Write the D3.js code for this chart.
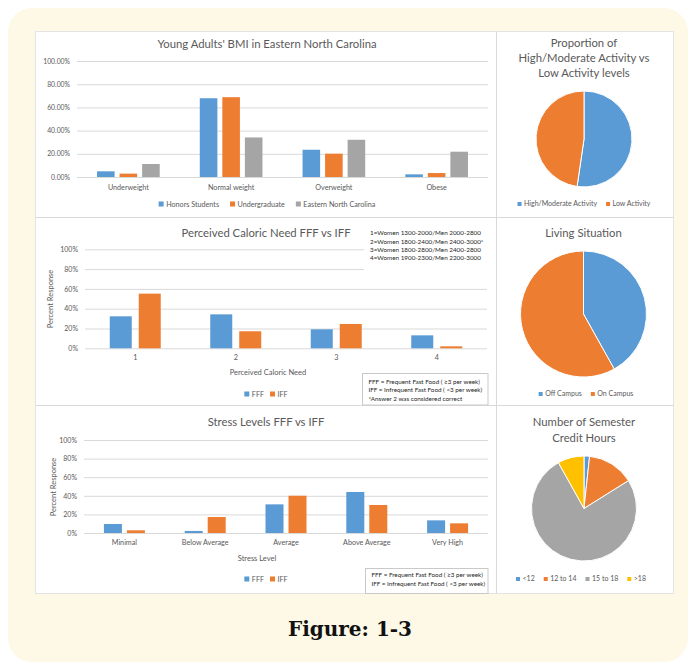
<!DOCTYPE html>
<html>
<head>
<meta charset="utf-8">
<script src="https://cdn.jsdelivr.net/npm/d3@7"></script>
<style>
  html, body { margin: 0; padding: 0; background: #ffffff; }
  svg { display: block; }
  text { font-family: Lato, "Open Sans", sans-serif; fill: #595959; }
</style>
</head>
<body>
<svg id="fig" width="692" height="667"></svg>
<script>
// ---- Data ----
const bmiCategories = ["Underweight", "Normal weight", "Overweight", "Obese"];
const bmiSeries = ["Honors Students", "Undergraduate", "Eastern North Carolina"];
const honorsValues = [4.9, 67.9, 23.5, 2.3];
const undergradValues = [2.9, 68.8, 20.1, 3.4];
const encValues = [11.2, 34.1, 32.1, 21.8];
const bmiTicks = [0, 20, 40, 60, 80, 100];

const fastFoodSeries = ["FFF", "IFF"];
const caloricCategories = ["1", "2", "3", "4"];
const caloricFFF = [32.3, 34.3, 19.2, 13.1];
const caloricIFF = [55.2, 17.2, 24.6, 2.0];
const caloricKey = [
  "1=Women 1300-2000/Men 2000-2800",
  "2=Women 1800-2400/Men 2400-3000*",
  "3=Women 1800-2800/Men 2400-2800",
  "4=Women 1900-2300/Men 2200-3000"
];
const caloricNotes = [
  "FFF = Frequent Fast Food ( \u22653 per week)",
  "IFF = Infrequent Fast Food ( <3 per week)",
  "*Answer 2 was considered correct"
];

const stressCategories = ["Minimal", "Below Average", "Average", "Above Average", "Very High"];
const stressFFF = [9.7, 2.2, 30.8, 44.1, 13.6];
const stressIFF = [2.9, 17.2, 40.1, 30.1, 10.4];
const stressNotes = [
  "FFF = Frequent Fast Food ( \u22653 per week)",
  "IFF = Infrequent Fast Food ( <3 per week)"
];
const pctTicks = [0, 20, 40, 60, 80, 100];

const activityLabels = ["High/Moderate Activity", "Low Activity"];
const activityValues = [52.3, 47.7];
const livingLabels = ["Off Campus", "On Campus"];
const livingValues = [41.9, 58.1];
const creditLabels = ["<12", "12 to 14", "15 to 18", ">18"];
const creditValues = [1.7, 14.4, 75.8, 8.1];

const palette = ["#5b9bd5", "#ed7d31", "#a5a5a5", "#ffc000"];
const gridColor = "#d9d9d9";

const svg = d3.select("#fig");

// ---- Frame: cream panel, white chart sheet, dividers ----
svg.append("rect").attr("x", 8).attr("y", 8).attr("width", 680).attr("height", 654)
  .attr("rx", 24).attr("fill", "#fdf9e6");
svg.append("rect").attr("x", 35.5).attr("y", 31.5).attr("width", 638).attr("height", 562)
  .attr("fill", "#ffffff").attr("stroke", "#e4e4e4").attr("stroke-width", 1);
svg.append("line").attr("x1", 496.5).attr("x2", 496.5).attr("y1", 31.5).attr("y2", 593.5)
  .attr("stroke", gridColor);
[217.5, 405.5].forEach(y => svg.append("line").attr("x1", 35.5).attr("x2", 673.5)
  .attr("y1", y).attr("y2", y).attr("stroke", gridColor));

svg.append("text").attr("x", 350).attr("y", 636).attr("text-anchor", "middle")
  .style("font-family", "'DejaVu Serif', serif").style("font-weight", "bold")
  .style("font-size", "20px").style("fill", "#111").text("Figure: 1-3");

// ---- Helpers ----
function legend(g, labels, colors, cx, y, size, fs, gap) {
  const items = g.append("g");
  let x = 0;
  labels.forEach((lab, i) => {
    items.append("rect").attr("x", x).attr("y", y - size / 2).attr("width", size).attr("height", size)
      .attr("fill", colors[i]);
    const t = items.append("text").attr("x", x + size + 2.5).attr("y", y).attr("dy", "0.35em")
      .style("font-size", fs + "px").text(lab);
    x += size + 2.5 + t.node().getComputedTextLength() + gap;
  });
  const w = x - gap;
  items.attr("transform", `translate(${cx - w / 2},0)`);
}

function barChart(cfg) {
  const g = svg.append("g");
  const x0 = d3.scaleBand().domain(cfg.categories).range(cfg.xRange)
    .paddingInner(cfg.groupPad).paddingOuter(cfg.groupPad / 2);
  const x1 = d3.scaleBand().domain(cfg.series).range([0, x0.bandwidth()]).paddingInner(cfg.barPad);
  const y = d3.scaleLinear().domain([0, 100]).range(cfg.yRange);

  // gridlines + tick labels
  const axis = d3.axisLeft(y).tickValues(cfg.ticks).tickFormat(cfg.fmt)
    .tickSize(-(cfg.xRange[1] - cfg.xRange[0])).tickPadding(7);
  const ag = g.append("g").attr("transform", `translate(${cfg.xRange[0]},0)`).call(axis);
  ag.select(".domain").remove();
  ag.selectAll(".tick line").attr("stroke", gridColor);
  ag.selectAll(".tick text").style("font-size", cfg.tickFs + "px").style("fill", "#595959")
    .style("font-family", "Lato, sans-serif");

  // bars
  cfg.series.forEach((s, si) => {
    g.append("g").selectAll("rect").data(cfg.values[si]).join("rect")
      .attr("x", (d, i) => x0(cfg.categories[i]) + x1(s))
      .attr("width", x1.bandwidth())
      .attr("y", d => y(d))
      .attr("height", d => y(0) - y(d))
      .attr("fill", palette[si]);
  });

  // category labels
  const xa = d3.axisBottom(x0).tickSize(0).tickPadding(cfg.labelPad);
  const xg = g.append("g").attr("transform", `translate(0,${cfg.yRange[0]})`).call(xa);
  xg.select(".domain").remove();
  xg.selectAll(".tick text").style("font-size", cfg.labelFs + "px").style("fill", "#595959")
    .style("font-family", "Lato, sans-serif");

  g.append("text").attr("x", cfg.titleX).attr("y", cfg.titleY).attr("dy", "0.35em")
    .attr("text-anchor", "middle").style("font-size", cfg.titleFs + "px").text(cfg.title);

  if (cfg.yTitle) {
    g.append("text").attr("transform", `translate(${cfg.yTitle.x},${cfg.yTitle.y}) rotate(-90)`)
      .attr("dy", "0.35em").attr("text-anchor", "middle").style("font-size", "7.5px").text(cfg.yTitle.text);
  }
  if (cfg.xTitle) {
    g.append("text").attr("x", cfg.xTitle.x).attr("y", cfg.xTitle.y).attr("dy", "0.35em")
      .attr("text-anchor", "middle").style("font-size", "7.5px").text(cfg.xTitle.text);
  }
  legend(g, cfg.series, palette, cfg.legend.x, cfg.legend.y, 5, cfg.legend.fs, cfg.legend.gap);
  return g;
}

function noteBox(lines, x, y, w, h, firstY, step, border) {
  const g = svg.append("g");
  g.append("rect").attr("x", x).attr("y", y).attr("width", w).attr("height", h)
    .attr("fill", "#ffffff").attr("stroke", border ? "#c9c9c9" : "none");
  lines.forEach((l, i) => g.append("text").attr("x", x + 6).attr("y", firstY + i * step)
    .attr("dy", "0.35em").style("font-size", "6.3px").style("fill", "#262626").text(l));
}

function pieChart(cfg) {
  const g = svg.append("g");
  cfg.title.forEach((t, i) => g.append("text").attr("x", cfg.cx).attr("y", cfg.titleY + i * cfg.titleStep)
    .attr("dy", "0.35em").attr("text-anchor", "middle").style("font-size", "11.3px").text(t));
  const pie = d3.pie().sort(null).value(d => d)(cfg.values);
  const arc = d3.arc().innerRadius(0).outerRadius(cfg.r);
  g.append("g").attr("transform", `translate(${cfg.cx},${cfg.cy})`)
    .selectAll("path").data(pie).join("path")
    .attr("d", arc).attr("fill", (d, i) => palette[i])
    .attr("stroke", "#ffffff").attr("stroke-width", 1);
  legend(g, cfg.labels, palette, cfg.legend.x, cfg.legend.y, 4, 7, 9);
}

// ---- Young Adults' BMI ----
barChart({
  categories: bmiCategories, series: bmiSeries,
  values: [honorsValues, undergradValues, encValues],
  xRange: [77, 488], yRange: [177, 61], ticks: bmiTicks,
  fmt: d => d3.format(".2f")(d) + "%",
  groupPad: 0.39, barPad: 0.22, tickFs: 6.8, labelFs: 7.2, labelPad: 8,
  title: "Young Adults' BMI in Eastern North Carolina", titleX: 267, titleY: 44, titleFs: 11.3,
  legend: { x: 267, y: 204, fs: 7.2, gap: 11 }
});

// ---- Perceived Caloric Need ----
barChart({
  categories: caloricCategories, series: fastFoodSeries,
  values: [caloricFFF, caloricIFF],
  xRange: [85, 487], yRange: [348.3, 249.3], ticks: pctTicks,
  fmt: d => d + "%",
  groupPad: 0.4925, barPad: 0.241, tickFs: 7, labelFs: 7.2, labelPad: 7,
  title: "Perceived Caloric Need FFF vs IFF", titleX: 266, titleY: 233, titleFs: 11.3,
  yTitle: { x: 50, y: 299, text: "Percent Response" },
  xTitle: { x: 268, y: 372, text: "Perceived Caloric Need" },
  legend: { x: 266, y: 394, fs: 7.2, gap: 6 }
});
noteBox(caloricKey, 364, 226, 124, 46, 233, 8.4, false);
noteBox(caloricNotes, 362.5, 373.5, 125.5, 31.5, 381.5, 8.6, true);

// ---- Stress Levels ----
barChart({
  categories: stressCategories, series: fastFoodSeries,
  values: [stressFFF, stressIFF],
  xRange: [84, 488], yRange: [533, 440], ticks: pctTicks,
  fmt: d => d + "%",
  groupPad: 0.4926, barPad: 0.217, tickFs: 7, labelFs: 7.2, labelPad: 7,
  title: "Stress Levels FFF vs IFF", titleX: 266, titleY: 422, titleFs: 11.3,
  yTitle: { x: 53, y: 487, text: "Percent Response" },
  xTitle: { x: 257, y: 558, text: "Stress Level" },
  legend: { x: 266, y: 579, fs: 7.2, gap: 6 }
});
noteBox(stressNotes, 365.5, 568.5, 122.5, 25, 574.5, 8.8, true);

// ---- Pies ----
pieChart({
  title: ["Proportion of", "High/Moderate Activity vs", "Low Activity levels"],
  titleY: 43.5, titleStep: 15, cx: 584, cy: 139, r: 48,
  values: activityValues, labels: activityLabels, legend: { x: 584, y: 204 }
});
pieChart({
  title: ["Living Situation"], titleY: 233, titleStep: 15, cx: 583.5, cy: 314, r: 63,
  values: livingValues, labels: livingLabels, legend: { x: 586, y: 394 }
});
pieChart({
  title: ["Number of Semester", "Credit Hours"], titleY: 422, titleStep: 16, cx: 584, cy: 508.5, r: 52.5,
  values: creditValues, labels: creditLabels, legend: { x: 581, y: 579 }
});
</script>
</body>
</html>
